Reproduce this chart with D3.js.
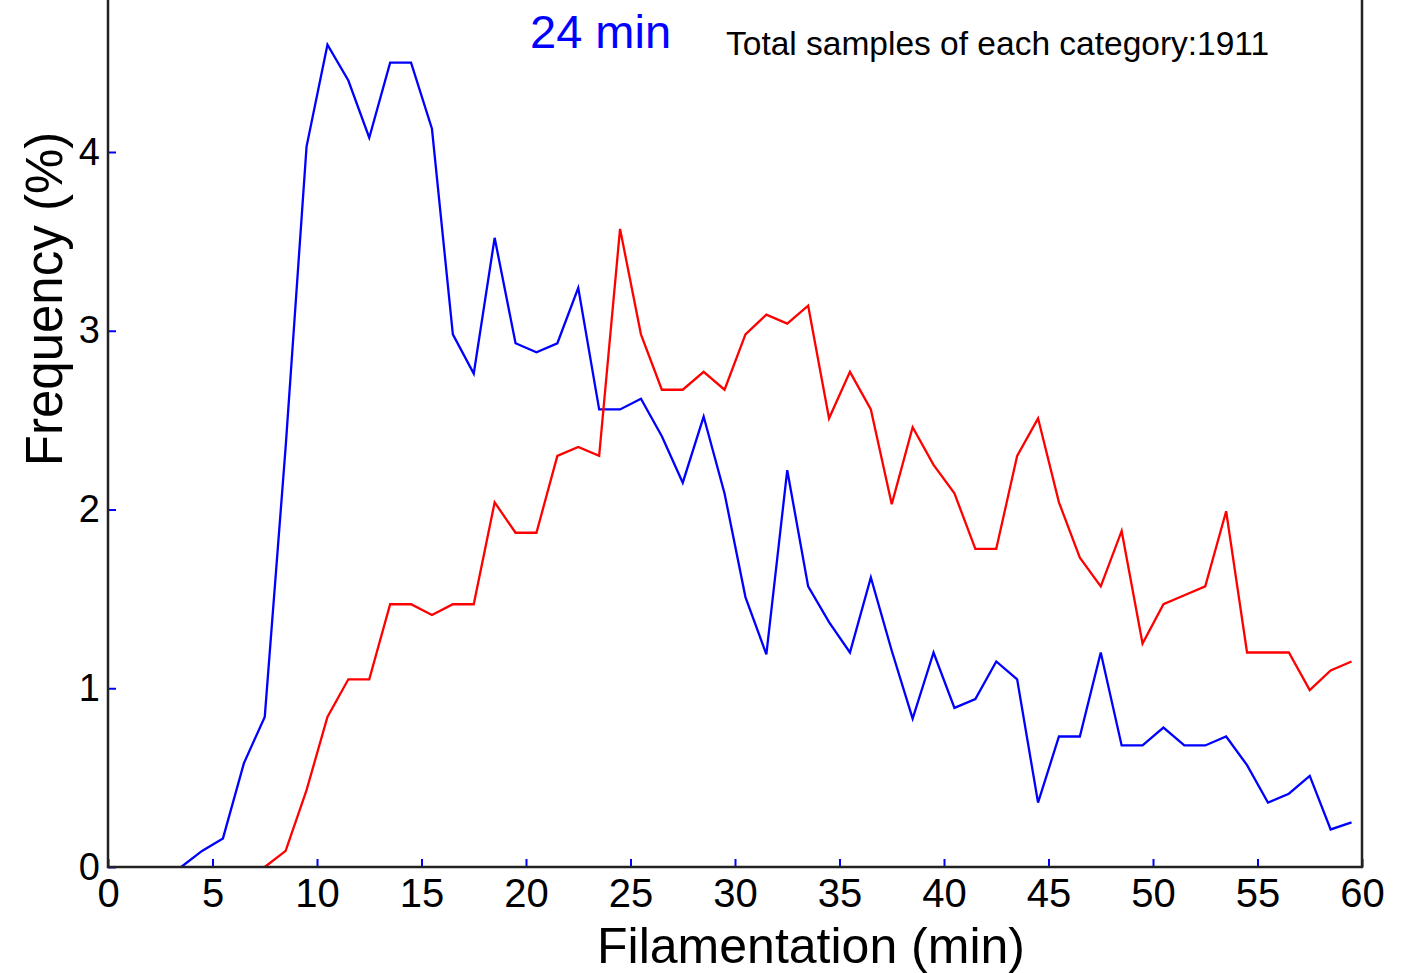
<!DOCTYPE html>
<html>
<head>
<meta charset="utf-8">
<script src="https://cdn.jsdelivr.net/npm/d3@7"></script>
<style>
  body { margin: 0; background: #fff; }
  svg { display: block; font-family: "Liberation Sans", Arial, sans-serif; }
</style>
</head>
<body>
<svg id="canvas" width="1422" height="973"></svg>
<script>
// bin centres (min) and frequency (%) for each category
let blueMinutes = d3.range(3.5, 60, 1);
let blueFreq = [0, 0.09, 0.16, 0.58, 0.84, 2.35, 4.03, 4.60, 4.40, 4.08, 4.50, 4.50, 4.13, 2.98, 2.76, 3.52,
  2.93, 2.88, 2.93, 3.24, 2.56, 2.56, 2.62, 2.41, 2.15, 2.52, 2.09, 1.51, 1.19, 2.22, 1.57, 1.37, 1.20,
  1.62, 1.21, 0.83, 1.20, 0.89, 0.94, 1.15, 1.05, 0.36, 0.73, 0.73, 1.20, 0.68, 0.68, 0.78, 0.68, 0.68,
  0.73, 0.57, 0.36, 0.41, 0.51, 0.21, 0.25];

let redMinutes = d3.range(7.5, 60, 1);
let redFreq = [0, 0.09, 0.43, 0.84, 1.05, 1.05, 1.47, 1.47, 1.41, 1.47, 1.47, 2.04, 1.87, 1.87, 2.30, 2.35,
  2.30, 3.57, 2.98, 2.67, 2.67, 2.77, 2.67, 2.98, 3.09, 3.04, 3.14, 2.51, 2.77, 2.56, 2.03, 2.46, 2.25,
  2.09, 1.78, 1.78, 2.30, 2.51, 2.04, 1.73, 1.57, 1.88, 1.25, 1.47, 1.52, 1.57, 1.99, 1.20, 1.20, 1.20,
  0.99, 1.10, 1.15];

let xTicks = d3.range(0, 61, 5);
let yTicks = [0, 1, 2, 3, 4];

let svg = d3.select('#canvas');

let x = d3.scaleLinear().domain([0, 60]).range([108, 1362]);
let y = d3.scaleLinear().domain([0, 5]).range([867, 867 - 5 * 178.75]);

let line = d3.line()
  .x(d => x(d[0]))
  .y(d => y(d[1]));

let blueData = blueMinutes.map((m, i) => [m, blueFreq[i]]);
let redData = redMinutes.map((m, i) => [m, redFreq[i]]);

svg.append('path')
  .datum(blueData)
  .attr('d', line)
  .attr('fill', 'none')
  .attr('stroke', '#0000ff')
  .attr('stroke-width', 2.3);

svg.append('path')
  .datum(redData)
  .attr('d', line)
  .attr('fill', 'none')
  .attr('stroke', '#ff0000')
  .attr('stroke-width', 2.3);

// axes: blue inward ticks, black labels
let xAxis = svg.append('g')
  .attr('transform', 'translate(0,' + y(0) + ')')
  .call(d3.axisBottom(x).tickValues(xTicks).tickFormat(d3.format('d'))
    .tickSizeInner(-8).tickSizeOuter(0).tickPadding(12));

let yAxis = svg.append('g')
  .attr('transform', 'translate(' + x(0) + ',0)')
  .call(d3.axisLeft(y).tickValues(yTicks).tickFormat(d3.format('d'))
    .tickSizeInner(-8).tickSizeOuter(0).tickPadding(8));

xAxis.selectAll('.tick line').attr('stroke', '#0000ff').attr('stroke-width', 2);
yAxis.selectAll('.tick line').attr('stroke', '#0000ff').attr('stroke-width', 2);
xAxis.selectAll('.domain').remove();
yAxis.selectAll('.domain').remove();

xAxis.selectAll('text')
  .attr('font-size', 40)
  .attr('font-family', '"Liberation Sans", Arial, sans-serif')
  .attr('fill', '#000');
yAxis.selectAll('text')
  .attr('font-size', 38)
  .attr('font-family', '"Liberation Sans", Arial, sans-serif')
  .attr('fill', '#000');

// frame (left, bottom, right)
svg.append('path')
  .attr('d', 'M' + x(0) + ',' + y(5) + 'V' + y(0) + 'H' + x(60) + 'V' + y(5))
  .attr('fill', 'none')
  .attr('stroke', '#222')
  .attr('stroke-width', 2.5);

svg.append('text')
  .attr('x', (x(0) + x(60)) / 2 + 76)
  .attr('y', 963)
  .attr('text-anchor', 'middle')
  .attr('font-size', 50)
  .text('Filamentation (min)');

svg.append('text')
  .attr('transform', 'translate(62,' + 299 + ') rotate(-90)')
  .attr('text-anchor', 'middle')
  .attr('font-size', 51)
  .text('Frequency (%)');

svg.append('text')
  .attr('x', 530)
  .attr('y', 48)
  .attr('font-size', 47)
  .attr('fill', '#0000ff')
  .text('24 min');

svg.append('text')
  .attr('x', 726)
  .attr('y', 55)
  .attr('font-size', 33.5)
  .attr('fill', '#000')
  .text('Total samples of each category:1911');
</script>
</body>
</html>
